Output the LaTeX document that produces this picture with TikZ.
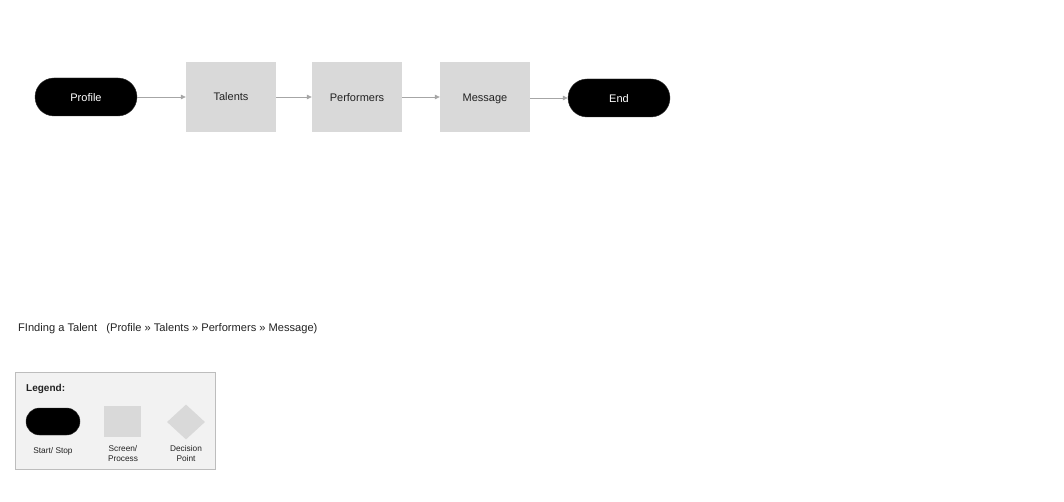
\documentclass[tikz,border=0pt]{standalone}
\usepackage{fontspec}
\setmainfont{Liberation Sans}
\usetikzlibrary{shapes.geometric,arrows.meta}
\definecolor{boxgray}{HTML}{D9D9D9}
\definecolor{leggray}{HTML}{F2F2F2}
\definecolor{legborder}{HTML}{BDBDBD}
\definecolor{arrgray}{HTML}{A6A6A6}
\definecolor{txt}{HTML}{222222}
\tikzset{
  pill/.style={rectangle, rounded corners=#1, fill=black, draw=black!80, text=white},
  screenbox/.style={rectangle, fill=boxgray, draw=none, minimum width=90pt, minimum height=70pt, text=txt, font=\fontsize{11}{13}\selectfont, text height=10pt, text depth=0pt},
  flow/.style={draw=arrgray, line width=0.7pt, -{Triangle[length=5pt,width=4.5pt]}},
  small/.style={font=\fontsize{8.3}{9.5}\selectfont, text=txt, align=center, inner sep=0pt}
}
\begin{document}
\begin{tikzpicture}[x=1pt,y=-1pt]
\useasboundingbox[fill=white] (0,0) rectangle (1064,502);
\node[pill=19pt, minimum width=102pt, minimum height=38pt, font=\fontsize{11}{13}\selectfont, text height=10pt, text depth=0pt] (profile) at (86,97) {Profile};
\node[screenbox] (talents) at (231,97) {\raisebox{1pt}{Talents}};
\node[screenbox] (performers) at (357,97) {Performers};
\node[screenbox] (message) at (485,97) {Message};
\node[pill=19pt, minimum width=102pt, minimum height=38pt, font=\fontsize{11}{13}\selectfont, text height=10pt, text depth=0pt] (end) at (619,98) {End};
\draw[flow] (profile.east) -- (talents.west |- profile.east);
\draw[flow] (talents.east) -- (performers.west);
\draw[flow] (performers.east) -- (message.west);
\draw[flow] (message.east |- end.west) -- (end.west);
\node[anchor=base west, inner sep=0pt, text=txt, font=\fontsize{11.1}{13}\selectfont] (title) at (18,331) {FInding a Talent \ \ (Profile » Talents » Performers » Message)};
\node[rectangle, fill=leggray, draw=legborder, line width=0.8pt, minimum width=200pt, minimum height=97pt, anchor=north west] (legend) at (15,372) {};
\node[anchor=base west, inner sep=0pt, text=txt, font=\bfseries\fontsize{10}{12}\selectfont] (legtitle) at (26,391) {Legend:};
\node[pill=13.5pt, minimum width=54pt, minimum height=27pt] (legpill) at (53,421.5) {};
\node[rectangle, fill=boxgray, minimum width=37pt, minimum height=31pt, inner sep=0pt] (legbox) at (122.5,421.5) {};
\node[diamond, fill=boxgray, minimum width=38pt, minimum height=35pt, inner sep=0pt] (legdia) at (186,422) {};
\node[small] (l1) at (53,451) {Start/ Stop};
\node[small] (l2) at (123,453.5) {Screen/\\Process};
\node[small] (l3) at (186,453.5) {Decision\\Point};
\end{tikzpicture}
\end{document}
